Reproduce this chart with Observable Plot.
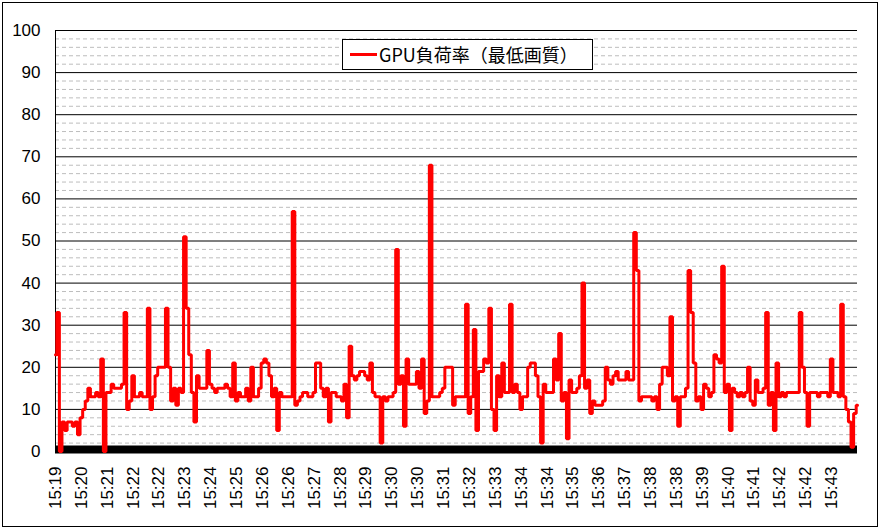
<!DOCTYPE html>
<html><head><meta charset="utf-8">
<script src="https://cdn.jsdelivr.net/npm/d3@7"></script>
<script src="https://cdn.jsdelivr.net/npm/@observablehq/plot@0.6"></script>
<style>
html,body{margin:0;padding:0;background:#fff;}
#wrap{position:relative;width:881px;height:528px;overflow:hidden;background:#fff;}
#frame{position:absolute;left:2px;top:2px;width:876px;height:525px;border:1px solid #000;box-sizing:border-box;pointer-events:none;}
#legend{position:absolute;left:342px;top:39px;width:251px;height:31px;border:1px solid #000;box-sizing:border-box;background:#fff;font-family:"Noto Sans CJK JP",sans-serif;font-size:18px;color:#000;}
#legend .sw{position:absolute;left:7px;top:13px;width:27px;height:3px;background:#ff0000;}
#legend .tx{position:absolute;left:36px;top:0;line-height:29px;white-space:nowrap;}
#chart{position:absolute;left:0;top:0;}
</style>
</head><body>
<div id="wrap"><div id="chart"></div><div id="legend"><span class="sw"></span><span class="tx"></span></div><div id="frame"></div></div>
<script>
const seriesName = "GPU負荷率（最低画質）";
const timeLabels = ["15:19","15:20","15:21","15:22","15:22","15:23","15:24","15:25","15:26","15:26","15:27","15:28","15:29","15:30","15:30","15:31","15:32","15:33","15:34","15:34","15:35","15:36","15:37","15:38","15:38","15:39","15:40","15:41","15:42","15:42","15:43"];
const labelEvery = 10;
const yTicks = [0,10,20,30,40,50,60,70,80,90,100];
const yMinor = [2,4,6,8,12,14,16,18,22,24,26,28,32,34,36,38,42,44,46,48,52,54,56,58,62,64,66,68,72,74,76,78,82,84,86,88,92,94,96,98];
const gpuLoad = [
23,33,0,7,5,7,7,6,7,4,8,10,12,15,13,13,14,13,22,0,
14,14,16,15,15,15,16,33,10,12,18,13,13,14,13,13,34,10,13,18,
20,20,20,34,20,12,15,11,15,14,51,34,23,14,7,18,15,15,15,24,
16,15,14,15,15,15,16,15,13,21,12,14,13,13,15,12,20,13,13,15,
21,22,21,18,13,15,5,14,13,13,13,13,57,11,12,13,14,14,13,13,
14,21,21,15,13,15,7,14,14,13,13,12,16,8,25,18,17,18,19,19,
18,17,21,14,13,13,2,13,12,13,13,14,48,16,18,6,22,16,16,16,
19,15,22,9,12,68,13,13,13,14,15,20,20,20,11,13,13,13,13,35,
9,13,29,5,19,19,22,21,34,10,5,18,13,21,14,14,35,14,16,14,
10,13,13,20,21,21,18,13,2,16,14,14,14,22,17,28,12,14,3,17,
14,14,15,18,40,15,17,9,12,11,11,11,12,20,17,16,18,19,17,17,
17,19,17,17,52,43,12,13,13,13,13,12,13,10,16,20,20,18,32,12,
13,6,13,13,15,43,33,21,12,13,10,16,15,13,14,23,22,21,44,14,
16,5,15,14,13,14,13,14,20,12,11,17,14,14,15,33,11,14,5,21,
13,14,13,14,14,14,14,14,33,20,14,6,14,14,14,13,14,14,14,13,
22,14,14,13,35,13,10,7,1,9,11
];
document.querySelector("#legend .tx").textContent = seriesName;
const n = gpuLoad.length;
const tickIdx = timeLabels.map((_, k) => k * labelEvery);
const chart = Plot.plot({
  width: 881, height: 528,
  marginLeft: 55, marginRight: 24, marginTop: 30, marginBottom: 77,
  x: {type: "linear", domain: [0, n - 1]},
  y: {domain: [0, 100]},
  style: {fontFamily: "'Liberation Sans', Arial, sans-serif", fontSize: "17px", color: "#000", background: "transparent"},
  marks: [
    Plot.ruleY(yMinor, {stroke: "#bdbdbd", strokeDasharray: "4,3", strokeWidth: 1}),
    Plot.ruleY(yTicks.filter(v => v > 0), {stroke: "#000", strokeWidth: 1}),
    Plot.ruleX([0], {stroke: "#000", strokeWidth: 1}),
    Plot.ruleY([0], {stroke: "#000", strokeWidth: 8, dy: -2}),
    Plot.lineY(gpuLoad, {x: (d, i) => i, y: d => d, stroke: "#ff0000", strokeWidth: 3, curve: "step", strokeLinejoin: "miter"}),
    Plot.axisY(yTicks, {tickSize: 0, tickPadding: 15, fontSize: 17, label: null}),
    Plot.axisX(tickIdx, {tickSize: 0, tickPadding: 15, tickRotate: -90, fontSize: 17, label: null, tickFormat: d => timeLabels[d / labelEvery]})
  ]
});
document.getElementById("chart").appendChild(chart);
</script>
</body></html>
